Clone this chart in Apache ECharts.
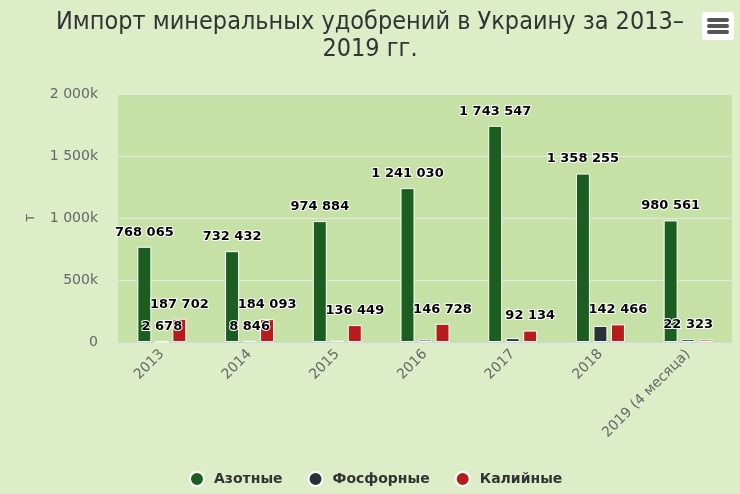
<!DOCTYPE html>
<html>
<head>
<meta charset="utf-8">
<script src="https://cdn.jsdelivr.net/npm/echarts@6/dist/echarts.min.js"></script>
<style>
  html, body { margin: 0; padding: 0; background: #dcedc8; }
  #chart { width: 740px; height: 494px; }
</style>
</head>
<body>
<div id="chart"></div>
<script>
// годы
var years = ['2013', '2014', '2015', '2016', '2017', '2018', '2019 (4 месяца)'];
// импорт, т
var nitrogen = [768065, 732432, 974884, 1241030, 1743547, 1358255, 980561];
var phosphate = [2678, 8846, 10500, 20000, 31000, 130000, 22323];
var potash = [187702, 184093, 136449, 146728, 92134, 142466, 20000];
var yTicks = [0, 500000, 1000000, 1500000, 2000000];

var seriesNames = ['Азотные', 'Фосфорные', 'Калийные'];
var seriesColors = ['#1b5e20', '#263238', '#b71c1c'];

function fmt(v) {
    return String(v).replace(/\B(?=(\d{3})+(?!\d))/g, ' ');
}

function makeSeries(name, color, data) {
    return {
        name: name,
        type: 'bar',
        data: data,
        barWidth: 14,
        barGap: '25%',
        itemStyle: {
            color: color,
            borderColor: '#fff',
            borderWidth: 1
        },
        label: {
            show: true,
            position: 'top',
            distance: 5,
            padding: [2, 0],
            lineHeight: 15,
            formatter: function (p) { return fmt(p.value); },
            fontFamily: 'DejaVu Sans',
            fontWeight: 'bold',
            fontSize: 13,
            color: '#000',
            textBorderColor: '#fff',
            textBorderWidth: 2
        },
        labelLayout: { hideOverlap: true }
    };
}

var chart = echarts.init(document.getElementById('chart'));
var option = {
    backgroundColor: '#dcedc8',
    animation: false,
    color: seriesColors,
    title: {
        text: 'Импорт минеральных удобрений в Украину за 2013–\n2019 гг.',
        left: 'center',
        top: 4,
        padding: [5, 0, 5, 12],
        textStyle: {
            fontFamily: 'Liberation Sans Narrow, DejaVu Sans Condensed',
            fontWeight: 'normal',
            fontSize: 25,
            lineHeight: 27,
            color: '#333'
        }
    },
    graphic: [{
        type: 'group',
        right: 6,
        top: 12,
        children: [
            { type: 'rect', shape: { x: 0, y: 0, width: 32, height: 28, r: 3 }, style: { fill: '#fff' } },
            { type: 'line', shape: { x1: 7, y1: 8, x2: 25, y2: 8 }, style: { stroke: '#555', lineWidth: 4, lineCap: 'round' } },
            { type: 'line', shape: { x1: 7, y1: 14, x2: 25, y2: 14 }, style: { stroke: '#555', lineWidth: 4, lineCap: 'round' } },
            { type: 'line', shape: { x1: 7, y1: 20, x2: 25, y2: 20 }, style: { stroke: '#555', lineWidth: 4, lineCap: 'round' } }
        ]
    }],
    legend: {
        data: seriesNames,
        bottom: 2,
        left: 184,
        icon: 'circle',
        itemWidth: 24,
        itemHeight: 14,
        itemGap: 25,
        textStyle: {
            fontFamily: 'DejaVu Sans',
            fontWeight: 'bold',
            fontSize: 14,
            color: '#333'
        }
    },
    grid: {
        left: 118,
        right: 8,
        top: 94,
        bottom: 152,
        show: true,
        backgroundColor: '#c5e1a5',
        borderWidth: 0
    },
    xAxis: {
        type: 'category',
        data: years,
        axisLine: { lineStyle: { color: '#ccd6eb', width: 1 } },
        axisTick: { show: false },
        axisLabel: {
            rotate: 45,
            margin: 10,
            interval: 0,
            fontFamily: 'DejaVu Sans',
            fontSize: 14,
            color: '#666'
        }
    },
    yAxis: {
        type: 'value',
        min: yTicks[0],
        max: yTicks[yTicks.length - 1],
        interval: yTicks[1] - yTicks[0],
        name: 'т',
        nameLocation: 'middle',
        nameRotate: 90,
        nameGap: 81,
        nameTextStyle: { fontFamily: 'DejaVu Sans', fontSize: 14, color: '#666' },
        splitLine: { lineStyle: { color: '#e6e6e6', width: 1 } },
        axisLine: { show: false },
        axisTick: { show: false },
        axisLabel: {
            margin: 20,
            fontFamily: 'DejaVu Sans',
            fontSize: 14,
            color: '#666',
            formatter: function (v) { return v === 0 ? '0' : fmt(v / 1000) + 'k'; }
        }
    },
    series: [
        makeSeries(seriesNames[0], seriesColors[0], nitrogen),
        makeSeries(seriesNames[1], seriesColors[1], phosphate),
        makeSeries(seriesNames[2], seriesColors[2], potash)
    ]
};
chart.setOption(option);
</script>
</body>
</html>
